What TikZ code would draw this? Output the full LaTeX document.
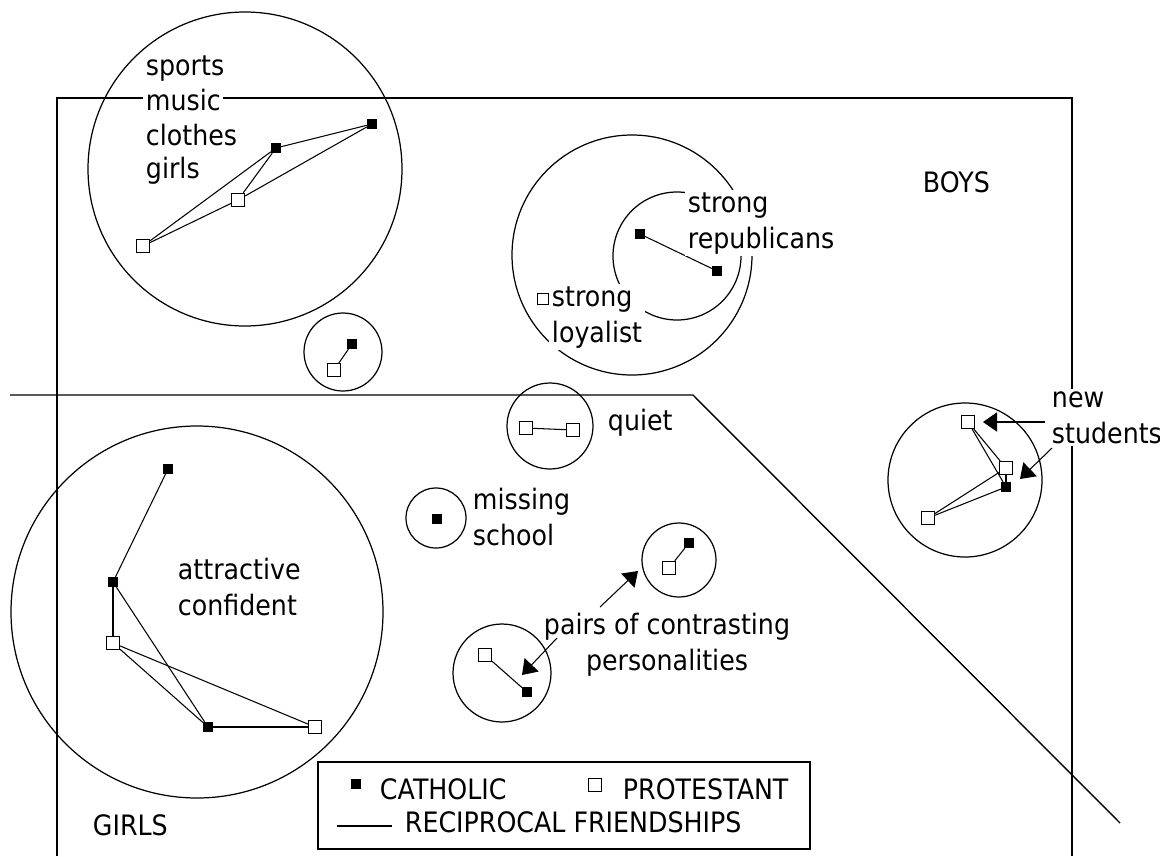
\documentclass[tikz,border=0pt]{standalone}
\usepackage{fontspec}
\setmainfont{DejaVu Sans}[FakeStretch=0.9]
\usetikzlibrary{arrows.meta}

\begin{document}
\begin{tikzpicture}[x=0.02cm,y=-0.02cm,
  every node/.style={font=\fontsize{16}{20}\selectfont},
  cath/.style={fill=black,inner sep=0pt,minimum size=5.5pt},
  prot/.style={draw,fill=white,line width=0.6pt,inner sep=0pt,minimum size=7.5pt},
  lbl/.style={inner sep=1.5pt,align=left,anchor=base west},
  tie/.style={line width=0.6pt},
  ring/.style={line width=0.7pt},
  frame/.style={line width=1.1pt},
  ptr/.style={line width=0.6pt,-{Triangle[length=8pt,width=11pt]}}]
  \useasboundingbox (0,0) rectangle (1160,856);
  \draw[frame] (57,856) -- (57,98) -- (1072,98) -- (1072,856);
  \draw[line width=0.8pt] (10,395) -- (693,395) -- (1120,823);
  \foreach \cx/\cy/\r in {245/169/157,343/352/39,632/255/120,677/256/64,550/426/43,
    436/518/30,679/560/37,502/673/49,965/480/77,197/612/186}
    \draw[ring] (\cx,\cy) circle[radius=\r];
  % boys
  \node[cath] (sp1) at (372,124) {};
  \node[cath] (sp2) at (276,148) {};
  \node[prot] (sp3) at (238,200) {};
  \node[prot] (sp4) at (143,246) {};
  \foreach \a/\b in {sp1/sp2,sp1/sp3,sp2/sp3,sp2/sp4,sp3/sp4} \draw[tie] (\a) -- (\b);
  \node[cath] (sm1) at (352,344) {};
  \node[prot] (sm2) at (334,370) {};
  \draw[tie] (sm1) -- (sm2);
  \node[cath] (rp1) at (640,234) {};
  \node[cath] (rp2) at (717,271) {};
  \draw[tie] (rp1) -- (rp2);
  \node[prot] (qt1) at (526,428) {};
  \node[prot] (qt2) at (573,430) {};
  \draw[tie] (qt1) -- (qt2);
  \node[prot] (ns1) at (968,422) {};
  \node[prot] (ns2) at (1006,468) {};
  \node[cath] (ns3) at (1006,487) {};
  \node[prot] (ns4) at (928,518) {};
  \foreach \a/\b in {ns1/ns2,ns1/ns3,ns2/ns3,ns2/ns4,ns3/ns4} \draw[tie] (\a) -- (\b);
  % girls
  \node[cath] (ms) at (437,519) {};
  \node[cath] (pa1) at (689,543) {};
  \node[prot] (pa2) at (669,568) {};
  \draw[tie] (pa1) -- (pa2);
  \node[prot] (pb1) at (485,655) {};
  \node[cath] (pb2) at (527,692) {};
  \draw[tie] (pb1) -- (pb2);
  \node[cath] (gl1) at (168,469) {};
  \node[cath] (gl2) at (113,582) {};
  \node[prot] (gl3) at (113,643) {};
  \node[cath] (gl4) at (208,727) {};
  \node[prot] (gl5) at (315,727) {};
  \foreach \a/\b in {gl1/gl2,gl2/gl3,gl2/gl4,gl3/gl4,gl3/gl5,gl4/gl5} \draw[tie] (\a) -- (\b);
  % labels (base = last line)
  \foreach \t/\y [count=\i] in {sports/75,music/110,clothes/145,girls/178}
    \node[lbl,fill=white] (tp\i) at (143,\y) {\t};
  \node[lbl,fill=white] (rep) at (685,248) {strong\\republicans};
  \node[lbl,fill=white] (loy) at (549,342) {strong\\loyalist};
  \node[prot,minimum size=6.5pt] (ly) at (543,299) {};
  \node[lbl] (boys) at (920,192) {BOYS};
  \node[lbl] (quiet) at (605,430) {quiet};
  \node[lbl] (miss) at (470,545) {missing\\school};
  \node[lbl,anchor=base,align=center] (pairs) at (667,670) {pairs of contrasting\\personalities};
  \node[lbl,fill=white] (new) at (1049,443) {new\\students};
  \node[lbl] (attr) at (175,615) {attractive\\confident};
  \node[lbl] (girls) at (90,835) {GIRLS};
  % arrows
  \coordinate (pt1) at (600,607); \coordinate (ph1) at (638,571);
  \coordinate (pt2) at (557,638); \coordinate (ph2) at (522,675);
  \coordinate (nt1) at (1045,422); \coordinate (nh1) at (983,422);
  \coordinate (nt2) at (1052,448); \coordinate (nh2) at (1020,479);
  \draw[ptr] (pt1) -- (ph1);
  \draw[ptr] (pt2) -- (ph2);
  \draw[ptr] (nt1) -- (nh1);
  \draw[ptr] (nt2) -- (nh2);
  % key
  \draw[frame] (318,762) rectangle (810,849);
  \node[cath] (kc) at (356,784) {};
  \node[lbl] (kct) at (377,799) {CATHOLIC};
  \node[prot] (kp) at (595,785) {};
  \node[lbl] (kpt) at (620,799) {PROTESTANT};
  \draw[tie] (337,826) -- (392,826);
  \node[lbl] (krt) at (402,832) {RECIPROCAL FRIENDSHIPS};
\end{tikzpicture}
\end{document}
